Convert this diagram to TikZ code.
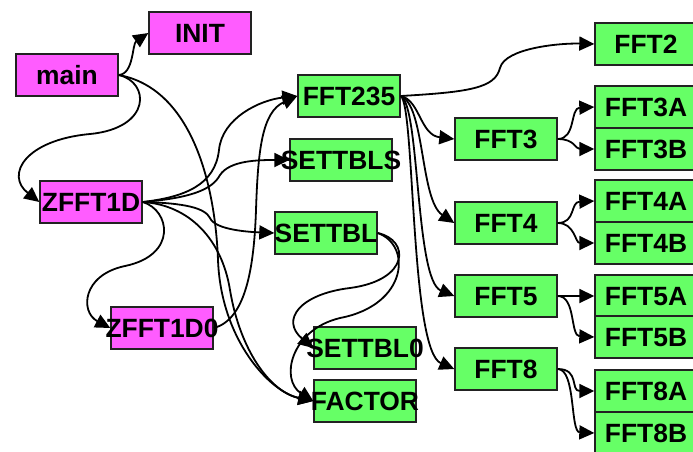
\documentclass[tikz,border=0pt]{standalone}
\usepackage{fontspec}
\setmainfont{Liberation Sans}
\usetikzlibrary{arrows.meta}
\definecolor{callerpink}{HTML}{FF5CFF}
\definecolor{calleegreen}{HTML}{66FF66}
\definecolor{boxline}{HTML}{222222}
% text is centred on the box and allowed to spill over its sides
\newcommand\boxtext[1]{\makebox[0pt]{#1}}
\tikzset{
  fbox/.style={draw=boxline, line width=1.4pt, minimum width=102pt, minimum height=42pt,
    inner sep=0pt, text height=18.9pt, text depth=0pt,
    font=\fontsize{26.4}{30}\selectfont\bfseries},
  pbox/.style={fbox, fill=callerpink},
  gbox/.style={fbox, fill=calleegreen},
  call/.style={line width=1.8pt, -{Triangle[length=15pt,width=14pt]}},
}
\begin{document}
\begin{tikzpicture}[x=1pt,y=-1pt]
\useasboundingbox (0,0) rectangle (693,451);
\clip (0,0) rectangle (693,451);

% routines
\node[pbox] (main)    at (67,75)   {\boxtext{main}};
\node[pbox] (init)    at (200,33)  {\boxtext{INIT}};
\node[pbox] (zfft)    at (91,202)  {\boxtext{ZFFT1D}};
\node[pbox] (zfft0)   at (162,328) {\boxtext{ZFFT1D0}};
\node[gbox] (f235)    at (349,96)  {\boxtext{FFT235}};
\node[gbox] (tbls)    at (341,160) {\boxtext{SETTBLS}};
\node[gbox] (tbl)     at (326,233) {\boxtext{SETTBL}};
\node[gbox] (tbl0)    at (365,348) {\boxtext{SETTBL0}};
\node[gbox] (factor)  at (365,401) {\boxtext{FACTOR}};
\node[gbox] (f3)      at (506,139) {\boxtext{FFT3}};
\node[gbox] (f4)      at (506,223) {\boxtext{FFT4}};
\node[gbox] (f5)      at (506,296) {\boxtext{FFT5}};
\node[gbox] (f8)      at (506,369) {\boxtext{FFT8}};
\node[gbox] (f2)      at (646,44)  {\boxtext{FFT2}};
\node[gbox] (f3a)     at (646,107) {\boxtext{FFT3A}};
\node[gbox] (f3b)     at (646,149) {\boxtext{FFT3B}};
\node[gbox] (f4a)     at (646,201) {\boxtext{FFT4A}};
\node[gbox] (f4b)     at (646,243) {\boxtext{FFT4B}};
\node[gbox] (f5a)     at (646,296) {\boxtext{FFT5A}};
\node[gbox] (f5b)     at (646,337) {\boxtext{FFT5B}};
\node[gbox] (f8a)     at (646,391) {\boxtext{FFT8A}};
\node[gbox] (f8b)     at (646,433) {\boxtext{FFT8B}};

% calls from main
\draw[call] (main.east) .. controls (134,74) and (132,44) .. (init.west);
\draw[call] (main.east) .. controls (150,82) and (152,128) .. (90,134)
                        .. controls (25,140) and (5,175) .. (zfft.west);
\draw[call] (main.east) .. controls (190,88) and (215,180) .. (218,260)
                        .. controls (221,340) and (270,392) .. (factor.west);

% calls from ZFFT1D
\draw[call] (zfft.east) .. controls (185,197) and (215,185) .. (219,150)
                        .. controls (222,118) and (260,100) .. (f235.west);
\draw[call] (zfft.east) .. controls (190,198) and (212,190) .. (220,175)
                        .. controls (230,160) and (260,160) .. (tbls.west);
\draw[call] (zfft.east) .. controls (185,203) and (205,208) .. (210,218)
                        .. controls (215,230) and (250,232) .. (tbl.west);
\draw[call] (zfft.east) .. controls (170,210) and (178,255) .. (125,266)
                        .. controls (82,275) and (80,312) .. (zfft0.west);
\draw[call] (zfft.east) .. controls (190,205) and (222,240) .. (230,290)
                        .. controls (240,350) and (270,392) .. (factor.west);

% call from ZFFT1D0
\draw[call] (zfft0.east) .. controls (245,320) and (254,270) .. (256,210)
                         .. controls (258,150) and (262,112) .. (f235.west);

% calls from SETTBL
\draw[call] (tbl.east) .. controls (410,240) and (410,280) .. (350,288)
                       .. controls (300,294) and (280,320) .. (tbl0.west);
\draw[call] (tbl.east) .. controls (412,245) and (408,305) .. (340,318)
                       .. controls (290,330) and (280,380) .. (factor.west);

% calls from FFT235
\draw[call] (f235.east) .. controls (470,92) and (495,88) .. (500,68)
                        .. controls (505,48) and (560,43) .. (f2.west);
\draw[call] (f235.east) .. controls (420,100) and (420,135) .. (f3.west);
\draw[call] (f235.east) .. controls (425,105) and (420,200) .. (f4.west);
\draw[call] (f235.east) .. controls (420,105) and (415,280) .. (f5.west);
\draw[call] (f235.east) .. controls (415,105) and (410,350) .. (f8.west);

% radix kernels
\draw[call] (f3.east) .. controls (576,139) and (570,108) .. (f3a.west);
\draw[call] (f3.east) .. controls (575,139) and (575,149) .. (f3b.west);
\draw[call] (f4.east) .. controls (576,223) and (570,202) .. (f4a.west);
\draw[call] (f4.east) .. controls (575,223) and (575,243) .. (f4b.west);
\draw[call] (f5.east) -- (f5a.west);
\draw[call] (f5.east) .. controls (576,296) and (570,336) .. (f5b.west);
\draw[call] (f8.east) .. controls (580,369) and (570,391) .. (f8a.west);
\draw[call] (f8.east) .. controls (576,369) and (570,432) .. (f8b.west);
\end{tikzpicture}
\end{document}
